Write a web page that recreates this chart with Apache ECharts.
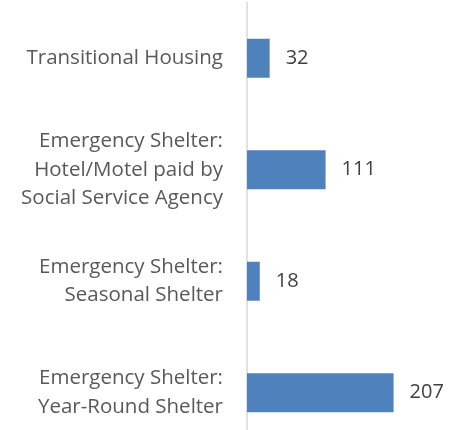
<!DOCTYPE html>
<html>
<head>
<meta charset="utf-8">
<script src="https://cdn.jsdelivr.net/npm/echarts@6/dist/echarts.min.js"></script>
<style>html,body{margin:0;padding:0;background:#fff}#c{width:465px;height:430px}</style>
</head>
<body>
<div id="c"></div>
<script>
var categories = [
  "Transitional Housing",
  "Emergency Shelter:\nHotel/Motel paid by\nSocial Service Agency",
  "Emergency Shelter:\nSeasonal Shelter",
  "Emergency Shelter:\nYear-Round Shelter"
];
var values = [32, 111, 18, 207];

var chart = echarts.init(document.getElementById('c'), null, {renderer: 'canvas'});
chart.setOption({
  animation: false,
  grid: {left: 247, top: 2.5, width: 177, height: 446, containLabel: false, outerBoundsMode: 'none'},
  xAxis: {
    type: 'value', min: 0, max: 250, show: false
  },
  yAxis: {
    type: 'category', data: categories, inverse: true,
    axisLine: {show: true, lineStyle: {color: '#D9D9D9', width: 1.5}},
    axisTick: {show: false},
    axisLabel: {
      color: '#595959', fontFamily: 'Open Sans', fontSize: 20.5, lineHeight: 28.5,
      align: 'right', margin: 24
    }
  },
  series: [{
    type: 'bar', data: values, barWidth: 39,
    itemStyle: {color: '#4F81BD'},
    label: {
      show: true, position: 'right', distance: 16,
      color: '#404040', fontFamily: 'Open Sans', fontSize: 20
    }
  }]
});
</script>
</body>
</html>
